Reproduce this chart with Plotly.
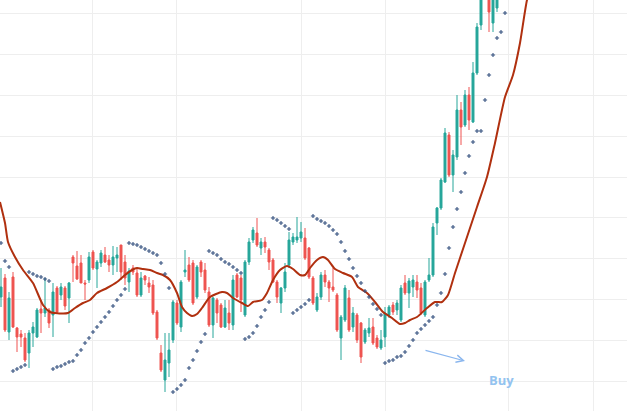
import plotly.graph_objects as go

# ---------------- data (price units, one candle per bar index) ----------------
opens = [121.0, 125.75, 112.25, 126.0, 113.25, 111.75, 110.75, 107.0, 112.0, 111.0,
         118.0, 117.0, 117.75, 116.5, 123.25, 121.5, 123.25, 120.75, 131.0, 128.75,
         129.5, 124.5, 125.25, 132.25, 128.0, 129.5, 131.5, 130.25, 129.0, 130.75,
         134.0, 129.75, 124.75, 128.25, 127.0, 121.5, 126.25, 124.5, 124.0, 117.25,
         107.0, 100.25, 104.5, 110.25, 119.5, 113.5, 127.25, 129.0, 129.5, 121.0,
         129.75, 127.75, 122.25, 114.0, 120.25, 119.0, 113.5, 117.0, 114.0, 126.5,
         125.75, 116.5, 129.75, 135.25, 137.0, 133.25, 134.75, 132.75, 130.25, 124.75,
         119.5, 123.25, 129.0, 134.75, 135.25, 135.75, 135.75, 133.25, 125.75, 117.75,
         121.0, 126.5, 124.75, 123.5, 121.5, 110.75, 115.25, 120.75, 113.5, 116.5,
         114.5, 109.75, 112.0, 113.5, 110.75, 108.25, 111.0, 116.5, 119.0, 117.75,
         115.25, 124.5, 122.0, 123.5, 124.75, 123.25, 116.5, 125.25, 126.5, 139.5,
         143.25, 149.75, 161.5, 151.5, 156.0, 167.75, 164.0, 171.5, 164.75, 177.0,
         189.0, 197.75, 200.25, 189.5, 193.25]
highs = [128.25, 126.75, 122.25, 127.25, 113.5, 112.75, 112.0, 112.75, 114.75, 118.25,
         120.25, 125.75, 118.25, 124.5, 123.75, 124.5, 123.75, 124.75, 131.5, 132.5,
         131.5, 125.25, 132.25, 132.75, 130.25, 132.75, 133.5, 131.5, 133.75, 133.5,
         134.0, 131.5, 128.25, 129.0, 128.25, 127.25, 126.5, 126.0, 125.25, 117.75,
         109.0, 112.0, 112.0, 120.25, 120.25, 125.25, 132.75, 131.0, 130.25, 129.0,
         130.25, 129.5, 123.5, 121.0, 120.75, 119.5, 120.25, 120.25, 126.5, 127.0,
         126.5, 130.25, 135.75, 138.5, 140.75, 135.75, 136.0, 133.25, 130.75, 125.25,
         123.5, 129.5, 137.25, 137.0, 141.0, 139.75, 138.25, 133.5, 126.25, 122.0,
         127.25, 127.75, 125.25, 128.25, 122.0, 116.5, 124.0, 122.75, 118.5, 117.0,
         114.75, 113.25, 115.75, 115.75, 111.5, 112.75, 118.5, 119.0, 119.75, 120.25,
         124.0, 126.5, 125.75, 126.5, 126.5, 124.5, 125.25, 130.75, 139.5, 143.5,
         150.75, 163.25, 162.25, 157.75, 171.5, 169.75, 172.75, 173.5, 179.75, 189.5,
         200.25, 207.75, 202.75, 200.25, 201.5]
lows = [118.5, 112.25, 110.25, 113.25, 107.25, 108.5, 104.75, 103.25, 108.5, 110.75,
        112.0, 116.0, 113.25, 111.0, 117.0, 120.25, 117.75, 114.5, 124.75, 125.25,
        124.5, 120.25, 124.5, 127.75, 123.25, 128.5, 129.5, 127.25, 126.5, 127.25,
        125.25, 124.0, 122.25, 126.5, 121.0, 121.0, 124.0, 122.0, 116.5, 110.25,
        102.25, 97.25, 101.0, 109.5, 114.0, 112.25, 126.0, 124.75, 119.0, 120.5,
        126.0, 122.0, 113.5, 110.75, 114.5, 113.25, 113.25, 112.75, 112.75, 120.75,
        117.25, 116.0, 129.0, 134.5, 133.5, 131.5, 132.0, 127.75, 124.5, 119.5,
        117.0, 122.25, 128.25, 134.0, 134.5, 134.75, 130.25, 125.5, 119.0, 117.25,
        120.25, 123.5, 119.75, 122.25, 112.25, 105.25, 114.75, 112.25, 112.25, 109.5,
        104.5, 109.25, 111.0, 109.0, 108.0, 107.75, 108.5, 115.75, 116.5, 116.5,
        114.75, 121.5, 118.25, 121.0, 120.75, 116.5, 116.0, 124.75, 126.0, 136.5,
        142.75, 149.5, 151.0, 147.25, 155.25, 159.0, 163.5, 162.75, 164.5, 176.5,
        187.75, 196.5, 187.25, 187.25, 192.25]
closes = [123.5, 112.75, 120.75, 113.5, 111.0, 111.0, 105.25, 112.0, 113.5, 117.75,
          117.0, 118.25, 114.5, 122.25, 117.25, 123.5, 118.75, 124.5, 129.5, 125.5,
          124.5, 124.25, 131.0, 128.25, 129.75, 132.0, 129.75, 129.0, 131.0, 131.5,
          127.25, 125.75, 127.5, 127.25, 121.5, 125.75, 125.25, 123.5, 117.0, 110.75,
          102.75, 105.25, 107.75, 119.75, 114.5, 124.75, 127.75, 125.25, 119.5, 128.5,
          127.25, 122.75, 114.0, 120.75, 117.0, 113.5, 118.25, 114.5, 125.25, 121.0,
          120.25, 129.75, 134.75, 137.75, 134.0, 134.75, 133.5, 129.75, 124.75, 121.0,
          123.25, 127.25, 135.25, 136.0, 136.0, 137.25, 130.75, 126.0, 119.5, 121.0,
          126.5, 124.75, 123.25, 122.75, 112.75, 116.0, 123.25, 112.75, 117.0, 110.25,
          106.0, 112.75, 113.25, 109.5, 108.5, 110.25, 117.0, 118.5, 117.25, 119.5,
          123.25, 122.0, 125.0, 125.25, 122.75, 117.0, 124.75, 126.5, 138.5, 143.25,
          150.25, 162.0, 151.5, 156.5, 167.75, 163.5, 171.5, 165.25, 177.0, 188.5,
          197.75, 205.25, 192.25, 197.75, 199.0]

# moving average line, read at bar positions
ma_x = [-0.25, 1, 1.75, 3.5, 5.5, 8, 10.5, 12.25, 13.5, 16.75, 18.5, 20.5, 22.25, 24,
        26.5, 29, 31, 32.75, 34, 35.5, 37.25, 39, 40.5, 42.25, 44, 45.25, 46.5, 47.75,
        49, 50.25, 52.25, 55.25, 56.5, 58, 60.25, 61.75, 63, 65.25, 66.5, 68, 69.75,
        71.5, 73, 74.75, 76, 77.25, 79, 80.5, 81.75, 83.5, 85.5, 87.75, 89.25, 91.5,
        93.5, 95.5, 97.75, 99.75, 101, 102.25, 104, 106.5, 108.5, 110.25, 111.75,
        113.5, 116, 119, 121.5, 123.5, 126, 128, 129.75, 131.5, 133]
ma_y = [144.75, 139.5, 134.75, 131.0, 127.75, 124.5, 119.0, 117.25, 117.0, 117.0,
        118.25, 119.5, 120.25, 122.0, 123.25, 124.75, 126.5, 127.75, 128.25, 128.0,
        127.75, 127.0, 126.5, 125.25, 122.0, 118.5, 117.0, 116.25, 116.75, 118.25,
        121.0, 122.25, 122.0, 120.75, 119.5, 118.75, 119.75, 120.25, 122.0, 125.25,
        127.75, 128.75, 128.0, 126.5, 126.5, 128.25, 130.25, 131.0, 130.25, 128.0,
        127.0, 126.0, 123.5, 122.0, 119.75, 117.25, 115.75, 114.25, 114.5, 115.25,
        116.0, 118.25, 119.75, 119.75, 121.5, 127.0, 134.5, 143.5, 151.0, 159.5,
        171.0, 176.5, 184.5, 195.25, 200.0]

# parabolic SAR, one dot per bar
sar = [134.5, 130.0, 128.5, 102.5, 103.0, 103.5, 104.0, 127.25, 126.75, 126.25,
       126.0, 125.5, 125.0, 103.0, 103.5, 103.75, 104.25, 104.75, 105.0, 106.5,
       107.75, 109.5, 110.75, 112.25, 113.5, 114.75, 116.0, 117.25, 118.75, 120.25,
       121.5, 123.0, 134.5, 134.25, 134.0, 133.5, 133.0, 132.5, 132.0, 131.5,
       129.5, 126.75, 123.25, 97.25, 98.0, 99.0, 100.25, 103.25, 105.25, 107.5,
       109.75, 111.75, 132.5, 132.0, 131.5, 130.5, 129.75, 129.25, 128.5, 127.75,
       127.0, 110.5, 111.0, 112.0, 113.75, 116.0, 117.75, 119.75, 140.75, 140.25,
       139.5, 138.75, 138.0, 117.0, 117.75, 118.5, 119.25, 120.25, 141.25, 140.5,
       140.0, 139.5, 138.75, 137.75, 136.75, 134.75, 132.5, 130.5, 128.25, 126.25,
       124.5, 122.5, 121.0, 119.25, 118.0, 116.5, 104.5, 105.0, 105.25, 106.0,
       106.25, 107.25, 108.75, 110.25, 112.0, 113.0, 114.0, 115.0, 116.0, 119.0,
       122.0, 126.75, 133.25, 138.5, 143.0, 147.25, 152.0, 156.25, 159.75, 162.5,
       162.5, 170.25, 176.5, 181.5, 185.75, 187.25, 192.0]

grid_x = [22.9, 43.8, 75.2, 96.1, 126.8, 148.1]

signal_text = "Buy"
signal_arrow_from = (105.75, 107.75)
signal_arrow_to = (116.0, 105.0)
signal_label_pos = (125.0, 100.25)

bars = list(range(len(opens)))
sar_x = list(range(len(sar)))

fig = go.Figure()

fig.add_trace(go.Candlestick(
    x=bars, open=opens, high=highs, low=lows, close=closes,
    increasing=dict(line=dict(color="#26a69a", width=1), fillcolor="#26a69a"),
    decreasing=dict(line=dict(color="#ef5350", width=1), fillcolor="#ef5350"),
    whiskerwidth=0, showlegend=False, hoverinfo="skip",
))

fig.add_trace(go.Scatter(
    x=ma_x, y=ma_y, mode="lines",
    line=dict(color="#b0300f", width=2, shape="spline", smoothing=0.6),
    showlegend=False, hoverinfo="skip",
))

fig.add_trace(go.Scatter(
    x=sar_x, y=sar, mode="markers",
    marker=dict(symbol="cross-thin", size=3, color="#34507f",
                line=dict(color="#34507f", width=1.1)),
    showlegend=False, hoverinfo="skip",
))

fig.add_annotation(
    x=signal_arrow_to[0], y=signal_arrow_to[1],
    ax=signal_arrow_from[0], ay=signal_arrow_from[1],
    xref="x", yref="y", axref="x", ayref="y",
    text="", showarrow=True, arrowhead=5, arrowsize=1.2, arrowwidth=1.2,
    arrowcolor="#8ab6ee",
)
fig.add_annotation(
    x=signal_label_pos[0], y=signal_label_pos[1], xref="x", yref="y",
    text="<b>" + signal_text + "</b>", showarrow=False,
    font=dict(family="Open Sans, Arial, sans-serif", size=13, color="#93c3f0"),
)

fig.update_layout(
    width=627, height=411,
    margin=dict(l=0, r=0, t=0, b=0),
    paper_bgcolor="white", plot_bgcolor="white",
    boxgap=0.3,
    xaxis=dict(range=[-0.25, 156.5], tickmode="array", tickvals=grid_x,
               showticklabels=False, showgrid=True, gridcolor="#eeeeee",
               gridwidth=1, zeroline=False, showline=False,
               rangeslider=dict(visible=False), fixedrange=True),
    yaxis=dict(range=[92.5, 195.25], tick0=100, dtick=10.2,
               showticklabels=False, showgrid=True, gridcolor="#eeeeee",
               gridwidth=1, zeroline=False, showline=False, fixedrange=True),
)

fig.write_html("out.html")
